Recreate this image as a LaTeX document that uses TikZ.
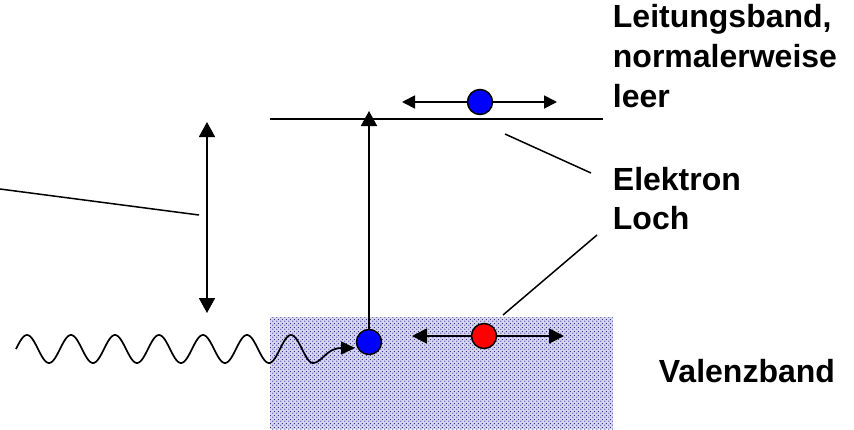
\documentclass[tikz,border=0pt]{standalone}
\usepackage{fontspec}
\setmainfont{Liberation Sans}
\usetikzlibrary{arrows.meta,patterns}
\definecolor{bandbg}{RGB}{215,215,235}
\definecolor{banddot}{RGB}{30,30,140}
\definecolor{elblue}{RGB}{0,0,255}
\definecolor{holered}{RGB}{255,0,0}
\pgfdeclarepatternformonly{banddots}{\pgfqpoint{0pt}{0pt}}{\pgfqpoint{4pt}{4pt}}{\pgfqpoint{4pt}{4pt}}{%
  \pgfpathcircle{\pgfqpoint{1pt}{1pt}}{0.75pt}%
  \pgfpathcircle{\pgfqpoint{3pt}{3pt}}{0.75pt}%
  \pgfusepath{fill}}
\begin{document}
\begin{tikzpicture}[x=1pt,y=-1pt,
  line width=1.8pt,
  lbl/.style={font=\bfseries\fontsize{32}{40}\selectfont,inner sep=0pt},
  particle/.style={circle,draw=black,line width=1.5pt,minimum size=25pt,inner sep=0pt},
  bigtip/.style={-{Triangle[length=15pt,width=16pt]}},
  dbltip/.style={{Triangle[length=15pt,width=16pt]}-{Triangle[length=15pt,width=16pt]}},
  smalltip/.style={-{Triangle[length=13pt,width=13pt]}},
  midtip/.style={-{Triangle[length=15pt,width=15pt]}}
]
\useasboundingbox (0,0) rectangle (854,429);
% valence band
\fill[bandbg] (270,317) rectangle (613,429);
\fill[pattern=banddots,pattern color=banddot] (270,317) rectangle (613,429);
% conduction band line
\coordinate (cbL) at (270,119);
\coordinate (cbR) at (603,119);
\draw (cbL) -- (cbR);
% particles
\node[particle,fill=elblue] (eup) at (480,102) {};
\node[particle,fill=elblue] (edown) at (369,342) {};
\node[particle,fill=holered] (hole) at (484,336) {};
% arrows of electron in conduction band
\coordinate (euL) at (402,102);
\coordinate (euR) at (557,102);
\draw[smalltip] (eup.west) -- (euL);
\draw[smalltip] (eup.east) -- (euR);
% arrows of hole
\coordinate (hL) at (412,336);
\coordinate (hR) at (564,336);
\draw[midtip] (hole.west) -- (hL);
\draw[midtip] (hole.east) -- (hR);
% excitation arrow
\coordinate (exTop) at (369,111);
\draw[bigtip] (edown.north) -- (exTop);
% gap double arrow
\coordinate (gT) at (207,122);
\coordinate (gB) at (207,313);
\draw[dbltip] (gB) -- (gT);
% pointer line from left
\coordinate (pL) at (0,189);
\coordinate (pR) at (199,215);
\draw[line width=1.5pt] (pL) -- (pR);
% labels
\node[lbl,anchor=north west,align=left] (leit) at (612,3) {Leitungsband,\\normalerweise\\leer};
\node[lbl,anchor=base west] (elek) at (612,190) {Elektron};
\node[lbl,anchor=base west] (loch) at (612,229) {Loch};
\node[lbl,anchor=base west] (val) at (658,382) {Valenzband};
% pointer lines
\coordinate (eA) at (505,134);
\coordinate (eB) at (591,173);
\draw[line width=1.5pt] (eA) -- (eB);
\coordinate (lA) at (597,235);
\coordinate (lB) at (503,315);
\draw[line width=1.5pt] (lA) -- (lB);
% photon wave
\coordinate (wEnd) at (355,348);
\draw[line width=1.7pt,-{Triangle[length=14pt,width=13pt]}]
  plot[domain=16:313,samples=300,smooth] (\x,{349-14*sin(8.1818*(\x-16))})
  .. controls (322,363) and (326,348) .. (wEnd);
\end{tikzpicture}
\end{document}
